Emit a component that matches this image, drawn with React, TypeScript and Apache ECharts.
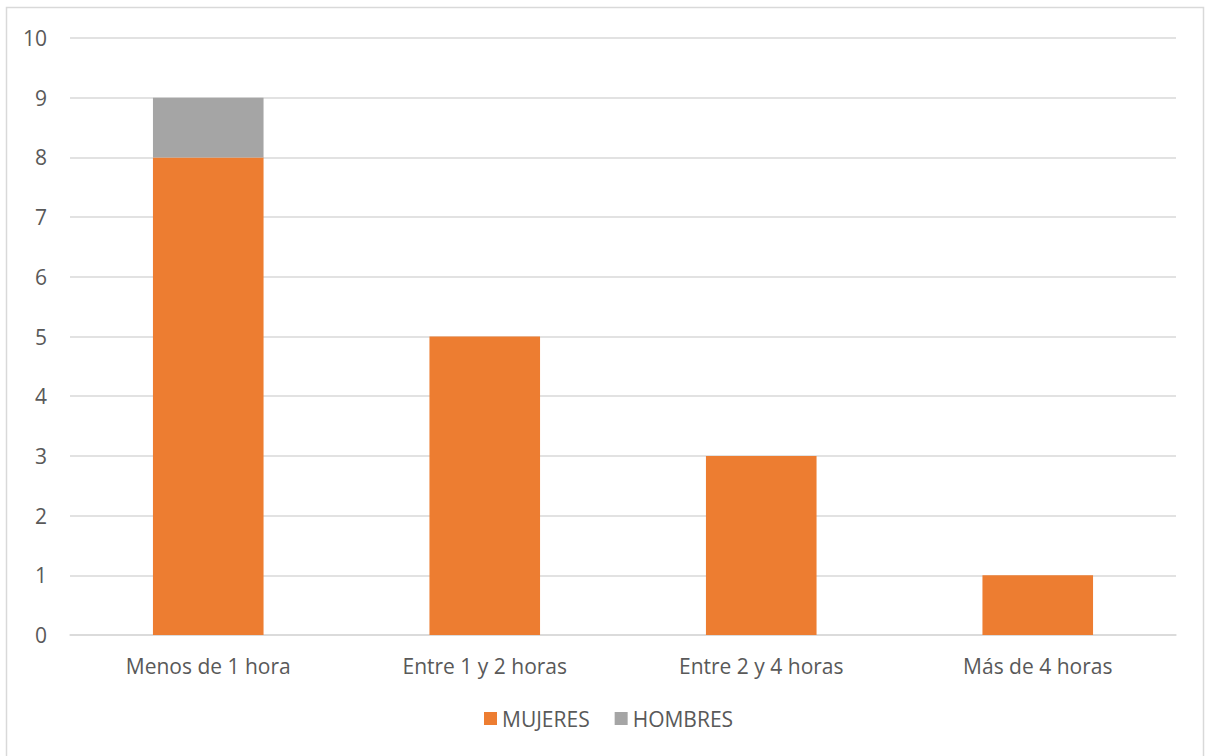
import React, { useEffect, useRef } from "react";
import * as echarts from "echarts";

const categories = ["Menos de 1 hora", "Entre 1 y 2 horas", "Entre 2 y 4 horas", "Más de 4 horas"];
const mujeres = [8, 5, 3, 1];
const hombres = [1, 0, 0, 0];
const seriesNames = ["MUJERES", "HOMBRES"];

export default function App() {
  const ref = useRef<HTMLDivElement>(null);
  useEffect(() => {
    const chart = echarts.init(ref.current!, null, { renderer: "svg" });
    const font = "'Open Sans', 'Noto Sans', sans-serif";
    chart.setOption({
      animation: false,
      backgroundColor: "#ffffff",
      textStyle: { fontFamily: font },
      graphic: [
        {
          type: "rect",
          shape: { x: 6.5, y: 7.5, width: 1197, height: 760 },
          style: { fill: "none", stroke: "#d9d9d9", lineWidth: 1.5 },
          silent: true,
        },
      ],
      grid: { left: 70, right: 33, top: 38, bottom: 121, containLabel: false },
      legend: {
        bottom: 22,
        left: 479,
        itemWidth: 13,
        itemHeight: 13,
        itemGap: 25,
        icon: "rect",
        textStyle: { color: "#595959", fontSize: 21, fontFamily: font },
        data: seriesNames,
      },
      xAxis: {
        type: "category",
        data: categories,
        axisLine: { show: true, lineStyle: { color: "#d9d9d9", width: 1.5 } },
        axisTick: { show: false },
        axisLabel: { color: "#595959", fontSize: 21, margin: 20, fontFamily: font },
      },
      yAxis: {
        type: "value",
        min: 0,
        max: 10,
        interval: 1,
        axisLine: { show: false },
        axisTick: { show: false },
        axisLabel: { color: "#595959", fontSize: 21, margin: 23, fontFamily: font },
        splitLine: { lineStyle: { color: "#d9d9d9", width: 1.5 } },
      },
      series: [
        {
          name: seriesNames[0],
          type: "bar",
          stack: "total",
          data: mujeres,
          barWidth: "40%",
          itemStyle: { color: "#ed7d31" },
        },
        {
          name: seriesNames[1],
          type: "bar",
          stack: "total",
          data: hombres,
          barWidth: "40%",
          itemStyle: { color: "#a5a5a5" },
        },
      ],
    });
    return () => chart.dispose();
  }, []);
  return (
    <div
      ref={ref}
      style={{ position: "absolute", left: 0, top: 0, width: 1209, height: 756 }}
    />
  );
}
